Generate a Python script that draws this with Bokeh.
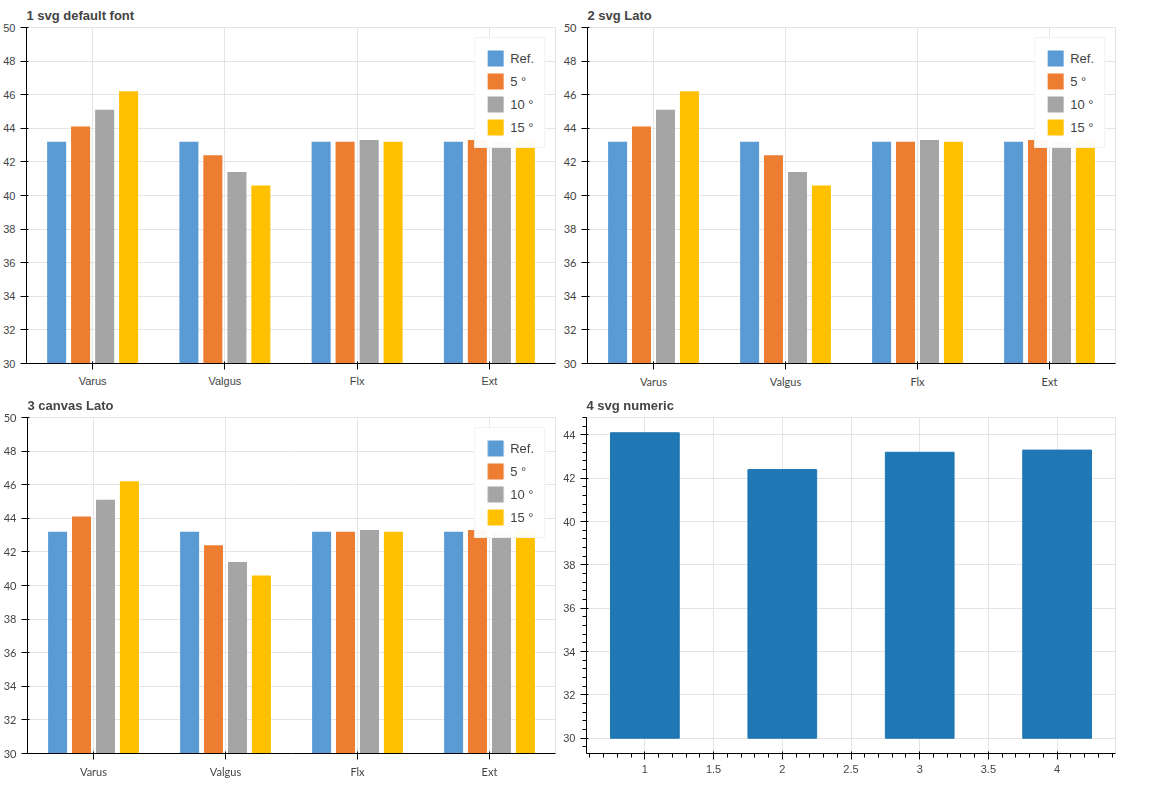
from bokeh.plotting import figure
from bokeh.models import (ColumnDataSource, FactorRange, Range1d, FixedTicker)
from bokeh.transform import dodge
from bokeh.layouts import row, column
from bokeh.embed import file_html
from bokeh.resources import INLINE

categories = ["Varus", "Valgus", "Flx", "Ext"]
series = ["Ref.", "5 °", "10 °", "15 °"]
colors = ["#5B9BD5", "#ED7D31", "#A5A5A5", "#FFC000"]
wa_ref = [43.2, 43.2, 43.2, 43.2]
wa_5 = [44.1, 42.4, 43.2, 43.3]
wa_10 = [45.1, 41.4, 43.3, 43.2]
wa_15 = [46.2, 40.6, 43.2, 43.3]

offsets = [-0.272, -0.091, 0.091, 0.272]
means = [wa_ref, wa_5, wa_10, wa_15]


def make(title, backend="svg", font=None):
    p = figure(x_range=FactorRange(*categories), y_range=Range1d(30, 50),
               width=560, height=390, output_backend=backend, toolbar_location=None,
               title=title)
    if font:
        p.xaxis.major_label_text_font = font
        p.yaxis.major_label_text_font = font
    p.yaxis.ticker = FixedTicker(ticks=list(range(30, 51, 2)))
    for i, s in enumerate(series):
        src = ColumnDataSource(dict(cat=categories, top=means[i]))
        p.vbar(x=dodge("cat", offsets[i], range=p.x_range), top="top", bottom=30,
               width=0.144, source=src, fill_color=colors[i], line_color=None,
               legend_label=s)
    return p


p1 = make("1 svg default font", "svg")
p2 = make("2 svg Lato", "svg", font="Lato")
p3 = make("3 canvas Lato", "canvas", font="Lato")

p4 = figure(width=560, height=390, output_backend="svg", toolbar_location=None,
            title="4 svg numeric")
p4.vbar(x=[1, 2, 3, 4], top=wa_5, width=0.5, bottom=30)

layout = column(row(p1, p2), row(p3, p4))
open("out.html", "w").write(file_html(layout, INLINE))
